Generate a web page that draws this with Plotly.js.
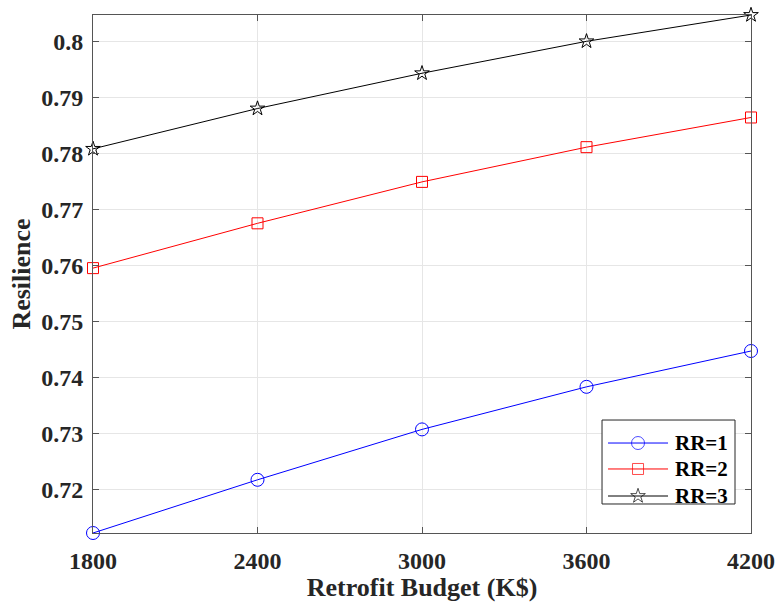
<!DOCTYPE html>
<html><head><meta charset="utf-8">
<script src="https://cdn.plot.ly/plotly-3.0.1.min.js"></script>
<style>body{margin:0;background:#fff}#chart{width:777px;height:602px}</style>
</head><body><div id="chart"></div>
<script>
const budgets = [1800, 2400, 3000, 3600, 4200];
const rr1 = [0.7123, 0.7218, 0.7308, 0.7384, 0.7448];
const rr2 = [0.7596, 0.7676, 0.7750, 0.7812, 0.7865];
const rr3 = [0.7809, 0.7881, 0.7944, 0.8001, 0.8048];
const names = ['RR=1', 'RR=2', 'RR=3'];
const yTicks = [0.72, 0.73, 0.74, 0.75, 0.76, 0.77, 0.78, 0.79, 0.8];
const yTickText = ['0.72', '0.73', '0.74', '0.75', '0.76', '0.77', '0.78', '0.79', '0.8'];

const colors = ['#0000ff', '#ff0000', '#000000'];
const symbols = ['circle-open', 'square-open', 'star-open'];
const sizes = [13, 11, 11];
const series = [rr1, rr2, rr3];
const fam = 'Liberation Serif, Times New Roman, serif';

const traces = series.map((ys, i) => ({
  x: budgets, y: ys, name: names[i], type: 'scatter', mode: 'lines+markers',
  line: {color: colors[i], width: 1},
  marker: {symbol: symbols[i], size: sizes[i], color: colors[i], line: {width: 1, color: colors[i]}},
  cliponaxis: false, showlegend: false
}));

// Legend drawn on an overlay axis (0..1 over the plot area)
const lg = {x0: 0.7736, x1: 0.9757, y0: 0.056, y1: 0.2181, sx0: 0.7827, sx1: 0.8739, sm: 0.8283, tx: 0.8815,
  rows: [0.1737, 0.1236, 0.0714]};
traces.push({
  x: [lg.x0, lg.x1, lg.x1, lg.x0, lg.x0], y: [lg.y0, lg.y0, lg.y1, lg.y1, lg.y0],
  xaxis: 'x2', yaxis: 'y2', type: 'scatter', mode: 'lines', fill: 'toself', fillcolor: '#ffffff',
  line: {color: '#262626', width: 1}, hoverinfo: 'skip', showlegend: false
});
names.forEach((n, i) => {
  traces.push({
    x: [lg.sx0, lg.sm, lg.sx1], y: [lg.rows[i], lg.rows[i], lg.rows[i]],
    xaxis: 'x2', yaxis: 'y2', type: 'scatter', mode: 'lines+markers',
    line: {color: colors[i], width: 1},
    marker: {symbol: symbols[i], size: [0, sizes[i], 0], color: colors[i], line: {width: 1, color: colors[i]}},
    hoverinfo: 'skip', showlegend: false
  });
});
const annotations = names.map((n, i) => ({
  xref: 'paper', yref: 'paper', x: lg.tx, y: lg.rows[i], xanchor: 'left', yanchor: 'middle',
  text: n, showarrow: false, font: {family: fam, size: 21, color: '#000', weight: 'bold'}
}));

const axisBase = {
  showgrid: true, gridcolor: '#e6e6e6', gridwidth: 1,
  showline: true, linecolor: '#555', linewidth: 1, mirror: 'ticks',
  ticks: 'inside', ticklen: 6, tickcolor: '#555', zeroline: false,
  tickfont: {family: fam, size: 24, color: '#262626', weight: 'bold'}
};
const layout = {
  width: 777, height: 602,
  margin: {l: 93, r: 26, t: 15, b: 69},
  paper_bgcolor: '#fff', plot_bgcolor: '#fff',
  font: {family: fam, color: '#262626'},
  showlegend: false,
  annotations: annotations,
  xaxis: Object.assign({}, axisBase, {
    range: [1800, 4200], tickvals: budgets, ticktext: budgets.map(String),
    ticklabelstandoff: 6,
    title: {text: 'Retrofit Budget (K$)', font: {family: fam, size: 26, color: '#262626', weight: 'bold'}, standoff: 2}
  }),
  yaxis: Object.assign({}, axisBase, {
    range: [0.7123, 0.8048], tickvals: yTicks, ticktext: yTickText,
    ticklabelstandoff: 4,
    title: {text: 'Resilience', font: {family: fam, size: 26, color: '#262626', weight: 'bold'}, standoff: 3}
  }),
  xaxis2: {overlaying: 'x', range: [0, 1], visible: false, fixedrange: true},
  yaxis2: {overlaying: 'y', range: [0, 1], visible: false, fixedrange: true}
};
Plotly.newPlot('chart', traces, layout, {displayModeBar: false});
</script></body></html>
